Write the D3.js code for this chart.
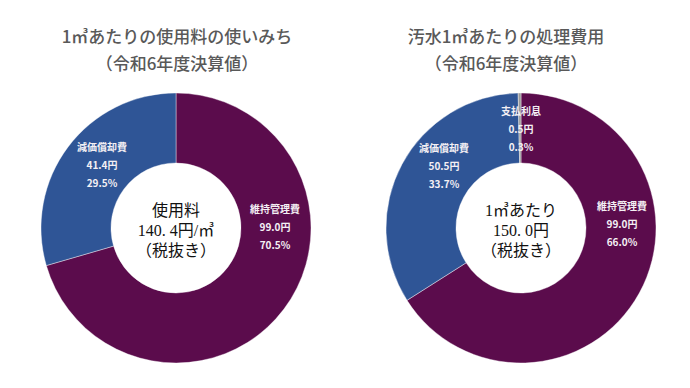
<!DOCTYPE html>
<html><head><meta charset="utf-8">
<script src="https://cdn.jsdelivr.net/npm/d3@7"></script>
<style>
html,body{margin:0;padding:0;background:#fff;}
svg{display:block;}
</style></head>
<body>
<svg id="c" width="690" height="388"></svg>
<script>
// ---- data ----
const leftCategories = ["維持管理費", "減価償却費"];
const leftValues = [99.0, 41.4];
const leftPercents = ["70.5%", "29.5%"];
const leftTitle = ["1㎥あたりの使用料の使いみち", "（令和6年度決算値）"];
const leftCenter = ["使用料", "140. 4円/㎥", "（税抜き）"];

const rightCategories = ["維持管理費", "減価償却費", "支払利息"];
const rightValues = [99.0, 50.5, 0.5];
const rightPercents = ["66.0%", "33.7%", "0.3%"];
const rightTitle = ["汚水1㎥あたりの処理費用", "（令和6年度決算値）"];
const rightCenter = ["1㎥あたり", "150. 0円", "（税抜き）"];

const colorMap = {"維持管理費": "#5b0c4c", "減価償却費": "#2f5596", "支払利息": "#9a9a9a"};

// ---- layout (label offsets relative to donut center) ----
const charts = [
  {cx: 176, cy: 228, titleX: 177, cats: leftCategories, vals: leftValues, pcts: leftPercents,
   title: leftTitle, center: leftCenter,
   labelPos: [[99, -2], [-74, -64]]},
  {cx: 521, cy: 228, titleX: 506, cats: rightCategories, vals: rightValues, pcts: rightPercents,
   title: rightTitle, center: rightCenter,
   labelPos: [[101, -5], [-77, -63], [0, -100]]}
];

const svg = d3.select("#c");
const outerR = 135, innerR = 65;
const pie = d3.pie().sort(null).value(d => d.v).startAngle(0).endAngle(2 * Math.PI);
const arc = d3.arc().innerRadius(innerR).outerRadius(outerR);
const sans = "'Noto Sans CJK JP', 'Noto Sans', sans-serif";
const serif = "'Liberation Serif', 'DejaVu Serif', 'Noto Sans CJK JP', serif";

charts.forEach(ch => {
  const data = ch.cats.map((c, i) => ({c, v: ch.vals[i], p: ch.pcts[i]}));
  const g = svg.append("g").attr("transform", `translate(${ch.cx},${ch.cy})`);
  g.selectAll("path").data(pie(data)).join("path")
    .attr("d", arc)
    .attr("fill", d => colorMap[d.data.c])
    .attr("stroke", "#ffffff").attr("stroke-width", 0.4);

  // slice labels
  data.forEach((d, i) => {
    const [lx, ly] = ch.labelPos[i];
    const lines = [d.c, d.v.toFixed(1) + "円", d.p];
    g.append("text")
      .attr("x", lx).attr("y", ly)
      .attr("text-anchor", "middle")
      .attr("font-family", sans).attr("font-size", 10).attr("font-weight", 700)
      .attr("fill", "#f4f0f4")
      .selectAll("tspan").data(lines).join("tspan")
      .attr("x", lx).attr("y", (t, k) => ly + (k - 1) * 18)
      .attr("dominant-baseline", "central")
      .text(t => t);
  });

  // center text
  g.append("text")
    .attr("text-anchor", "middle")
    .attr("font-family", serif).attr("font-size", 16)
    .attr("fill", "#111111")
    .selectAll("tspan").data(ch.center).join("tspan")
    .attr("x", 0).attr("y", (t, k) => 2 + (k - 1) * 20)
    .attr("dominant-baseline", "central")
    .text(t => t);

  // title
  svg.append("text")
    .attr("text-anchor", "middle")
    .attr("font-family", sans).attr("font-size", 17).attr("font-weight", 500)
    .attr("fill", "#595959")
    .selectAll("tspan").data(ch.title).join("tspan")
    .attr("x", ch.titleX).attr("y", (t, k) => 35 + k * 27)
    .attr("dominant-baseline", "central")
    .text(t => t);
});
</script>
</body></html>
